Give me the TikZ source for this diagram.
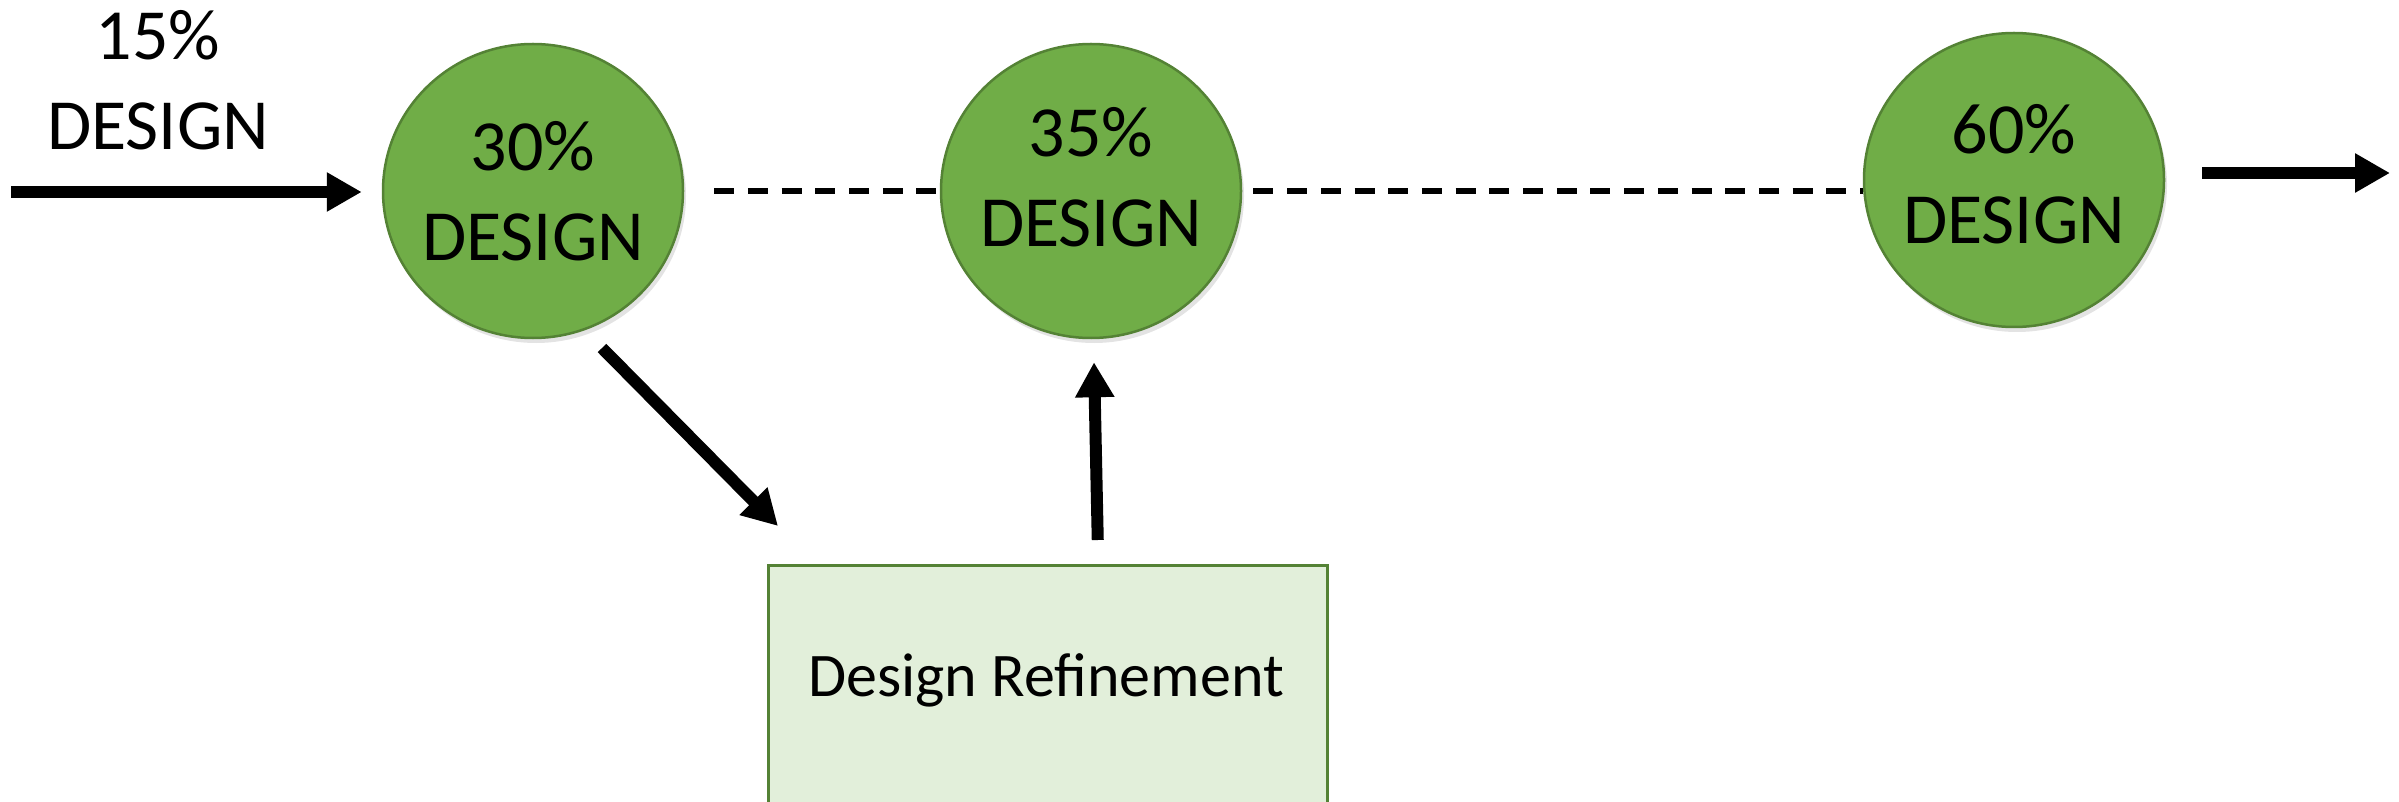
\documentclass[tikz,border=0pt]{standalone}
\usepackage{fontspec}
\setmainfont{Carlito}
\usetikzlibrary{arrows.meta,shapes.geometric,shadows}
\definecolor{circfill}{HTML}{70AD47}
\definecolor{circline}{HTML}{548235}
\definecolor{boxfill}{HTML}{E2EFDA}
\definecolor{boxline}{HTML}{548235}
\begin{document}
\begin{tikzpicture}[x=1pt,y=-1pt,
  phase/.style={ellipse, minimum width=300pt, minimum height=294pt, inner sep=0pt,
    fill=circfill, draw=circline, line width=2.5pt,
    drop shadow={shadow xshift=3pt, shadow yshift=-5pt, opacity=0.22}},
  lbl/.style={align=center, inner sep=0pt, font=\fontsize{72}{90}\selectfont},
  refbox/.style={rectangle, fill=boxfill, draw=boxline, line width=2.5pt,
    minimum width=559pt, minimum height=320pt, inner sep=0pt},
  fatarrow/.style={line width=12pt, -{Triangle[length=35pt,width=37pt]}},
  dashline/.style={line width=5.3pt, dash pattern=on 20pt off 13.7pt}
]
\useasboundingbox (0,0) rectangle (2399,802);
\clip (0,0) rectangle (2399,802);

\node[lbl] (t15) at (158,80) {15\%\\DESIGN};

\node[phase, label={[lbl]center:{30\%\\DESIGN}}] (c30) at (533,191) {};
\node[phase, label={[lbl,yshift=6pt]center:{60\%\\DESIGN}}] (c60) at (2014,180) {};

\draw[dashline, shorten <=30pt] (c30.east) -- (c60.west |- c30.east);

\node[phase, label={[lbl,yshift=13.5pt]center:{35\%\\DESIGN}}] (c35) at (1091,191) {};

\node[refbox, anchor=north west] (refine) at (767,564) {};
\node[inner sep=0pt, font=\fontsize{62}{74}\selectfont] (reftext) at (1046,680) {Design Refinement};

\coordinate (inS) at (11,192);
\coordinate (outE) at (2390,173);

\draw[fatarrow, shorten >=20pt] (inS) -- (c30.west |- inS);
\draw[fatarrow, shorten <=37pt] (c60.east |- outE) -- (outE);
\draw[fatarrow] ([shift={(69,157)}]c30.center) -- ([shift={(11,-38)}]refine.north west);
\draw[fatarrow] ([shift={(50,-24)}]refine.north) -- ([shift={(3,23)}]c35.south);
\end{tikzpicture}
\end{document}
